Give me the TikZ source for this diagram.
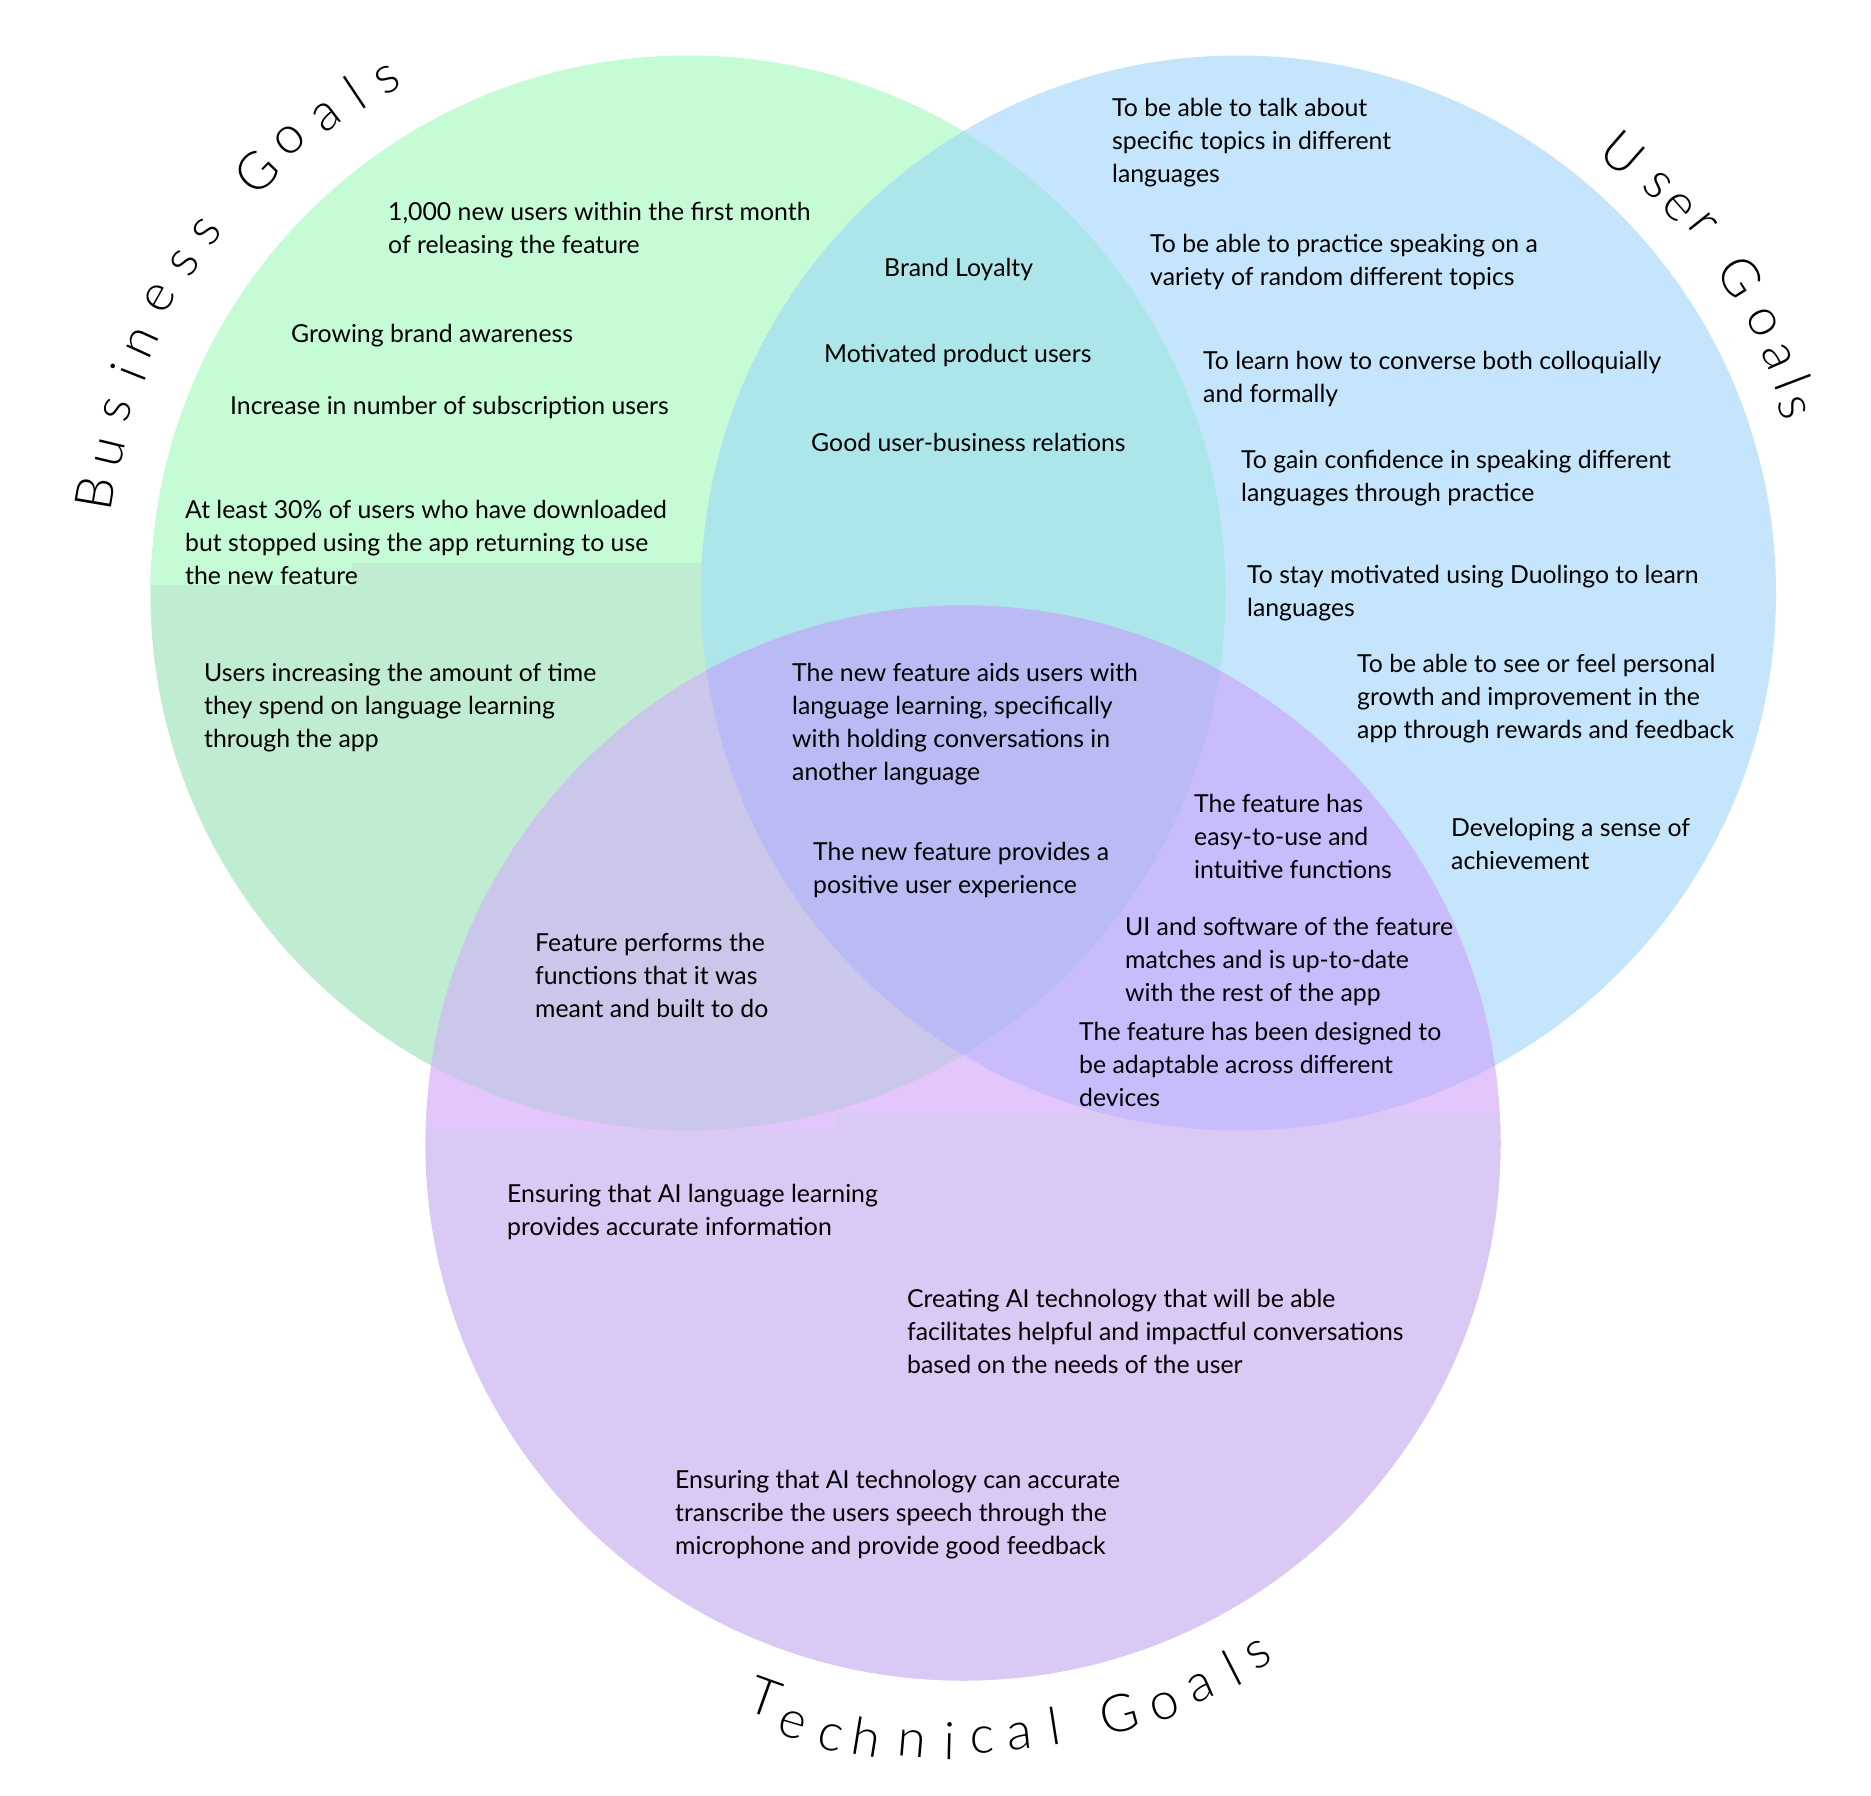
\documentclass[tikz,border=0pt]{standalone}
\usepackage{fontspec}
\setmainfont{Lato}
\newfontfamily\titlefont{Lato Light}
\definecolor{cG}{HTML}{C5FCD6}
\definecolor{cGd}{HTML}{C0ECD1}
\definecolor{cB}{HTML}{C5E5FC}
\definecolor{cP}{HTML}{E2C6FC}
\definecolor{cPd}{HTML}{DAC8F5}
\definecolor{cGB}{HTML}{ACE6EA}
\definecolor{cGP}{HTML}{CBC7EA}
\definecolor{cBP}{HTML}{C8BCFC}
\definecolor{cGBP}{HTML}{BABAF4}
\newcommand\blk[4]{\node[txt] (#1) at (#2,{-(#3-13.3)}) {\strut #4};}
\begin{document}
\begin{tikzpicture}[x=1pt,y=1pt,
  txt/.style={anchor=north west, inner sep=0pt, align=left, text=black, font=\fontsize{24.8}{33}\selectfont},
  ttl/.style={inner sep=0pt, text=black, font=\titlefont\fontsize{52}{60}\selectfont}]
\useasboundingbox (0,0) rectangle (1871,-1796);
\fill[white] (0,0) rectangle (1871,-1796);
\coordinate (gc) at (688,-593);
\coordinate (bc) at (1238.5,-593);
\coordinate (pc) at (963,-1143);
% base circles
\fill[cG] (gc) circle (537.5pt);
\begin{scope}
  \clip (gc) circle (537.5pt);
  \fill[cGd] (0,-563) rectangle (1871,-1796);
  \fill[cG] (150,-563) rectangle (352,-585);
\end{scope}
\fill[cB] (bc) circle (537.5pt);
\fill[cP] (pc) circle (537.5pt);
\begin{scope}
  \clip (pc) circle (537.5pt);
  \fill[cPd] (0,-1129) rectangle (835,-1796);
  \fill[cPd] (835,-1112) rectangle (1871,-1796);
\end{scope}
% overlaps
\begin{scope}
  \clip (gc) circle (537.5pt);
  \fill[cGB] (bc) circle (537.5pt);
  \fill[cGP] (pc) circle (537.5pt);
\end{scope}
\begin{scope}
  \clip (bc) circle (537.5pt);
  \fill[cBP] (pc) circle (537.5pt);
  \clip (gc) circle (537.5pt);
  \fill[cGBP] (pc) circle (537.5pt);
\end{scope}
% titles
\foreach \c/\x/\y/\r [count=\i] in {B/95/493/80.4, u/110/453/76.4, s/118/410/72.2, i/128/372/68.5, n/143/343/65.4, e/160/298/60.8, s/185/263/56.7, s/207/232/53.1, G/257/172/45.7, o/290/140/41.3, a/327/117/37.2, l/355/93/33.7, s/388/80/30.3}
  \node[ttl, rotate=\r] (bt\i) at (\x,-\y) {\c};
\foreach \c/\x/\y/\r [count=\i] in {U/1623/153/-41.2, s/1657/185/-45.8, e/1678/207/-48.7, r/1702/225/-51.6, G/1740/277/-57.8, o/1763/322/-62.7, a/1777/357/-66.4, l/1793/382/-69.2, s/1792/408/-71.4}
  \node[ttl, rotate=\r] (ut\i) at (\x,-\y) {\c};
\foreach \c/\x/\y/\r [count=\i] in {T/765/1697/-19.7, e/792/1725/-16.4, c/830/1737/-12.6, h/867/1737/-9.2, n/912/1744/-4.9, i/950/1741/-1.2, c/982/1740/1.8, a/1020/1736/5.5, l/1054/1726/8.9, G/1119/1714/15.3, o/1165/1706/19.7, a/1201/1688/23.6, l/1232/1668/27.1, s/1259/1655/30.0}
  \node[ttl, rotate=\r] (tt\i) at (\x,-\y) {\c};
% business
\blk{b1}{388}{210}{1,000 new users within the first month\\of releasing the feature}
\blk{b2}{291}{332}{Growing brand awareness}
\blk{b3}{230}{404}{Increase in number of subscription users}
\blk{b4}{185}{508}{At least 30\% of users who have downloaded\\but stopped using the app returning to use\\the new feature}
\blk{b5}{204}{671}{Users increasing the amount of time\\they spend on language learning\\through the app}
% business-user
\blk{bu1}{884}{266}{Brand Loyalty}
\blk{bu2}{824}{352}{Motivated product users}
\blk{bu3}{811}{441}{Good user-business relations}
% user
\blk{u1}{1112}{106}{To be able to talk about\\specific topics in different\\languages}
\blk{u2}{1150}{242}{To be able to practice speaking on a\\variety of random different topics}
\blk{u3}{1203}{359}{To learn how to converse both colloquially\\and formally}
\blk{u4}{1241}{458}{To gain confidence in speaking different\\languages through practice}
\blk{u5}{1247}{573}{To stay motivated using Duolingo to learn\\languages}
\blk{u6}{1357}{662}{To be able to see or feel personal\\growth and improvement in the\\app through rewards and feedback}
\blk{u7}{1451}{826}{Developing a sense of\\achievement}
% all three
\blk{a1}{792}{671}{The new feature aids users with\\language learning, specifically\\with holding conversations in\\another language}
\blk{a2}{813}{850}{The new feature provides a\\positive user experience}
% user-technical
\blk{ut1}{1194}{802}{The feature has\\easy-to-use and\\intuitive functions}
\blk{ut2}{1125}{925}{UI and software of the feature\\matches and is up-to-date\\with the rest of the app}
\blk{ut3}{1079}{1030}{The feature has been designed to\\be adaptable across different\\devices}
% business-technical
\blk{bt1}{535}{941}{Feature performs the\\functions that it was\\meant and built to do}
% technical
\blk{t1}{507}{1192}{Ensuring that AI language learning\\provides accurate information}
\blk{t2}{907}{1297}{Creating AI technology that will be able\\facilitates helpful and impactful conversations\\based on the needs of the user}
\blk{t3}{675}{1478}{Ensuring that AI technology can accurate\\transcribe the users speech through the\\microphone and provide good feedback}
\end{tikzpicture}
\end{document}
